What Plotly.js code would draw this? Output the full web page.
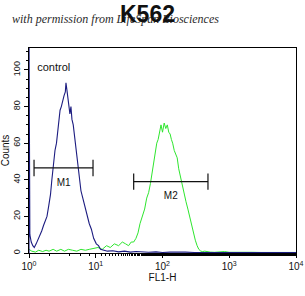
<!DOCTYPE html>
<html><head><meta charset="utf-8">
<script src="https://cdn.plot.ly/plotly-3.0.1.min.js"></script>
<style>html,body{margin:0;padding:0;background:#fff}#c{width:305px;height:296px}</style>
</head><body><div id="c"></div>
<script>
// Control (blue) histogram: FL1-H channel values and counts
const controlX = [1.0, 1.0, 1.03, 1.08, 1.14, 1.2, 1.28, 1.36, 1.45, 1.55, 1.65, 1.76, 1.86, 1.98, 2.1, 2.2, 2.32, 2.45, 2.58, 2.7, 2.8, 2.92, 3.05, 3.2, 3.35, 3.5, 3.58, 3.7, 3.85, 4.0, 4.1, 4.25, 4.4, 4.6, 4.8, 5.0, 5.2, 5.4, 5.7, 6.0, 6.4, 6.8, 7.4, 8.0, 8.6, 9.3, 10.2, 11.0, 11.8, 13, 15, 18, 22, 27, 33, 40, 50, 62, 80, 100, 130, 170, 220, 300, 400, 550, 750, 1000, 1400, 2000, 2800, 4000, 5600, 8000, 10000];
const controlY = [0, 125, 10, 6, 4, 3, 5, 7, 9, 12, 15, 18, 20, 26, 32, 40, 48, 56, 60, 66, 74, 78, 80, 84, 86, 88, 93, 89, 84, 80, 76, 80, 73, 70, 64, 60, 55, 46, 40, 34, 30, 26, 20, 16, 13, 8, 5, 4, 2, 1.5, 1, 1.2, 0.6, 1, 0.5, 0.8, 0.5, 0.4, 0.6, 0.3, 0.5, 0.3, 0.5, 0.3, 0.3, 0.4, 0.3, 0.3, 0.3, 0.3, 0.3, 0.3, 0.3, 0.3, 0.3];
// Sample (green) histogram
const sampleX = [1.0, 1.1, 1.25, 1.4, 1.6, 1.8, 2.0, 2.3, 2.6, 3.0, 3.4, 3.9, 4.5, 5.2, 6, 7, 8, 9.3, 10.8, 12.5, 14.5, 16.5, 19, 22, 25, 28, 31, 34, 37, 40, 43, 46, 50, 54, 58, 62, 66, 70, 74, 78, 82, 86, 90, 95, 100, 106, 112, 118, 124, 130, 136, 142, 150, 158, 166, 175, 185, 195, 205, 215, 225, 240, 255, 270, 290, 310, 330, 350, 375, 400, 430, 470, 520, 600, 700, 850, 1000, 1300, 1700, 2200, 3000, 4000, 5500, 7500, 10000];
const sampleY = [2, 1, 0.5, 1.5, 0.8, 1.5, 1, 2, 1, 2, 1, 2, 1.5, 1, 2, 1.5, 2, 2.5, 3, 2, 4, 3, 5, 4, 6, 5, 4, 6, 6, 8, 11, 16, 20, 24, 30, 33, 38, 44, 50, 56, 60, 62, 65, 70, 66, 71, 68, 70, 66, 65, 62, 60, 56, 54, 52, 46, 42, 38, 33, 30, 28, 24, 20, 15, 11, 7, 4, 2, 1, 0.8, 1, 0.6, 0.5, 0.4, 0.5, 0.8, 0.4, 0.5, 0.3, 0.4, 0.3, 0.3, 0.3, 0.3, 0.3];
// Marker gates
const gateNames = ["M1", "M2"];
const gateStart = [1.19, 37];
const gateEnd = [9.1, 480];
const gateLevel = [46.5, 39];
const gateLabelX = [3.3, 133];
const gateLabelY = [38, 31];
const tickVals = [1, 10, 100, 1000, 10000];
const tickText = ["10<sup>0</sup>", "10<sup>1</sup>", "10<sup>2</sup>", "10<sup>3</sup>", "10<sup>4</sup>"];
const controlLabel = "control";
const controlLabelPos = [2.35, 101];

const traces = [
  {x: sampleX, y: sampleY, mode: 'lines', line: {color: '#2ee62e', width: 1}, hoverinfo: 'skip'},
  {x: controlX, y: controlY, mode: 'lines', line: {color: '#1c1c80', width: 1.1}, hoverinfo: 'skip'}
];
const half = 4.5;
for (let i = 0; i < gateNames.length; i++) {
  const a = gateStart[i], b = gateEnd[i], y = gateLevel[i];
  traces.push({x: [a, a, null, a, b, null, b, b], y: [y - half, y + half, null, y, y, null, y - half, y + half],
    mode: 'lines', line: {color: '#111', width: 1.2}, hoverinfo: 'skip'});
  traces.push({x: [gateLabelX[i]], y: [gateLabelY[i]], mode: 'text', text: [gateNames[i]],
    textfont: {family: 'Liberation Sans, Arial', size: 10, color: '#111'}, hoverinfo: 'skip'});
}
traces.push({x: [controlLabelPos[0]], y: [controlLabelPos[1]], mode: 'text', text: [controlLabel],
  textfont: {family: 'Liberation Sans, Arial', size: 11, color: '#111'}, hoverinfo: 'skip'});

const layout = {
  width: 305, height: 296,
  margin: {l: 29, r: 9, t: 48, b: 43},
  paper_bgcolor: '#fff', plot_bgcolor: '#fff',
  showlegend: false,
  xaxis: {type: 'log', range: [0, 4], tickvals: tickVals, ticktext: tickText,
    ticks: 'outside', ticklen: 4, tickcolor: '#000', showgrid: false, zeroline: false,
    showline: true, linecolor: '#000', linewidth: 1, mirror: true,
    tickfont: {family: 'Liberation Sans, Arial', size: 10, color: '#111'},
    minor: {ticks: 'outside', ticklen: 2, tickcolor: '#000', showgrid: false},
    title: {text: 'FL1-H', font: {family: 'Liberation Sans, Arial', size: 10, color: '#111'}, standoff: 2}},
  yaxis: {range: [0, 112], tickvals: [0, 20, 40, 60, 80, 100], tickangle: -90,
    ticks: 'outside', ticklen: 4, tickcolor: '#000', showgrid: false, zeroline: false,
    showline: true, linecolor: '#000', linewidth: 1, mirror: true,
    tickfont: {family: 'Liberation Sans, Arial', size: 9, color: '#111'},
    minor: {ticks: 'outside', ticklen: 2, tickcolor: '#000', dtick: 5, showgrid: false},
    title: {text: 'Counts', font: {family: 'Liberation Sans, Arial', size: 10, color: '#111'}, standoff: 1}},
  annotations: [
    {text: 'with permission from LifeSpan Biosciences', xref: 'paper', yref: 'paper', x: -0.07, y: 1.14,
      xanchor: 'left', yanchor: 'middle', showarrow: false,
      font: {family: 'Liberation Serif, serif', size: 12, color: '#2a2a2a', style: 'italic'}},
    {text: '<b>K562</b>', xref: 'paper', yref: 'paper', x: 0.445, y: 1.165, xanchor: 'center', yanchor: 'middle',
      showarrow: false, font: {family: 'Liberation Sans, Arial', size: 23, color: '#111'}}
  ]
};
Plotly.newPlot('c', traces, layout, {displayModeBar: false, staticPlot: true});
</script></body></html>
